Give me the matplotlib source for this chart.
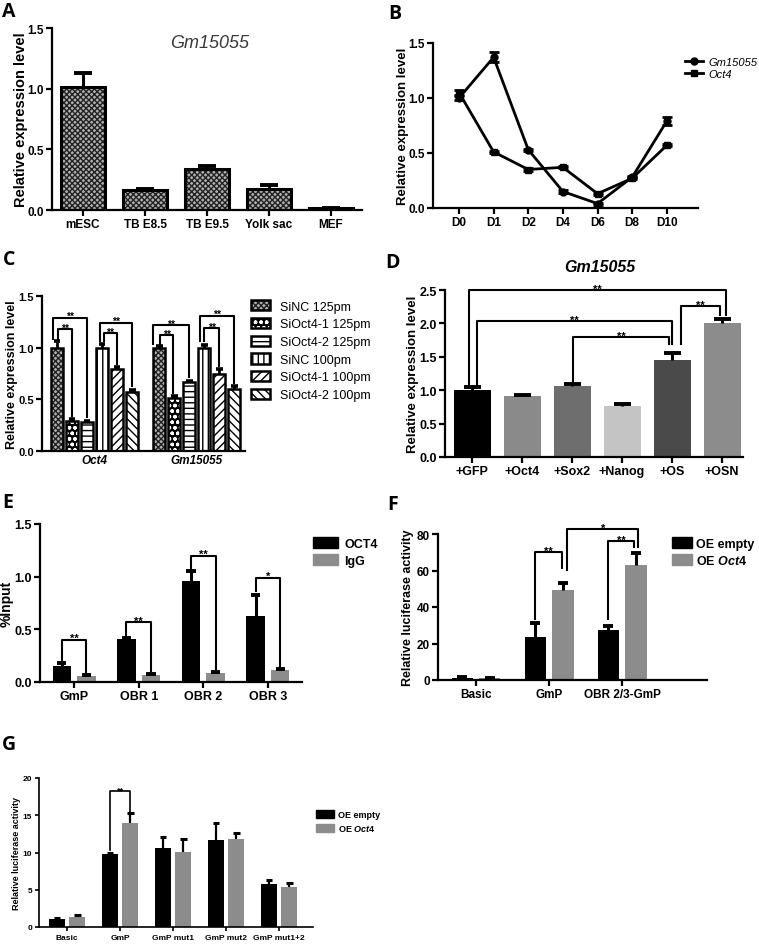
import numpy as np
import matplotlib
matplotlib.use('Agg')
import matplotlib.pyplot as plt
from matplotlib.patches import Patch
from matplotlib.lines import Line2D
from matplotlib.ticker import FormatStrFormatter

plt.rcParams['font.family'] = ['Liberation Sans', 'DejaVu Sans']
plt.rcParams['mathtext.fontset'] = 'custom'
plt.rcParams['mathtext.it'] = 'Liberation Sans:italic:bold'
plt.rcParams['mathtext.rm'] = 'Liberation Sans:bold'
plt.rcParams['hatch.linewidth'] = 1.0

# ---- data ----
A_cats = ['mESC', 'TB E8.5', 'TB E9.5', 'Yolk sac', 'MEF']
A_vals = [1.01, 0.165, 0.34, 0.17, 0.015]
A_err = [0.12, 0.01, 0.02, 0.04, 0.003]

B_days = ['D0', 'D1', 'D2', 'D4', 'D6', 'D8', 'D10']
B_gm = [1.0, 1.37, 0.53, 0.15, 0.04, 0.28, 0.79]
B_gm_err = [0.02, 0.045, 0.01, 0.01, 0.01, 0.01, 0.035]
B_oct = [1.05, 0.51, 0.35, 0.37, 0.13, 0.27, 0.57]
B_oct_err = [0.02, 0.01, 0.01, 0.01, 0.01, 0.01, 0.01]

C_groups = ['Oct4', 'Gm15055']
C_series = ['SiNC 125pm', 'SiOct4-1 125pm', 'SiOct4-2 125pm',
            'SiNC 100pm', 'SiOct4-1 100pm', 'SiOct4-2 100pm']
C_oct4 = [1.0, 0.29, 0.28, 1.0, 0.79, 0.57]
C_oct4_err = [0.06, 0.015, 0.01, 0.04, 0.02, 0.02]
C_gm = [1.0, 0.51, 0.67, 1.0, 0.75, 0.60]
C_gm_err = [0.02, 0.02, 0.01, 0.03, 0.04, 0.03]

D_cats = ['+GFP', '+Oct4', '+Sox2', '+Nanog', '+OS', '+OSN']
D_vals = [1.01, 0.91, 1.06, 0.77, 1.45, 2.01]
D_err = [0.04, 0.02, 0.03, 0.03, 0.10, 0.05]
D_colors = ['#000000', '#8a8a8a', '#6e6e6e', '#c4c4c4', '#4a4a4a', '#8c8c8c']

E_cats = ['GmP', 'OBR 1', 'OBR 2', 'OBR 3']
E_oct4 = [0.15, 0.41, 0.96, 0.63]
E_oct4_err = [0.03, 0.01, 0.09, 0.20]
E_igg = [0.06, 0.065, 0.09, 0.115]
E_igg_err = [0.01, 0.01, 0.005, 0.01]

F_cats = ['Basic', 'GmP', 'OBR 2/3-GmP']
F_empty = [1.2, 23.8, 27.5]
F_empty_err = [0.2, 7.4, 2.3]
F_oct4 = [0.9, 49.3, 63.2]
F_oct4_err = [0.2, 3.6, 6.3]

G_cats = ['Basic', 'GmP', 'GmP mut1', 'GmP mut2', 'GmP mut1+2']
G_empty = [1.1, 9.8, 10.6, 11.7, 5.8]
G_empty_err = [0.05, 0.2, 1.45, 2.2, 0.45]
G_oct4 = [1.35, 14.0, 10.1, 11.8, 5.35]
G_oct4_err = [0.2, 1.25, 1.7, 0.85, 0.6]

GREY = '#8c8c8c'
W, H = 759, 945
fig = plt.figure(figsize=(W / 100, H / 100), dpi=100)


def px_axes(l, t, r, b):
    ax = fig.add_axes([l / W, 1 - b / H, (r - l) / W, (b - t) / H])
    ax.px = (l, r)
    return ax


def prism(ax, fs, lw=1.6):
    for s in ['top', 'right']:
        ax.spines[s].set_visible(False)
    for s in ['left', 'bottom']:
        ax.spines[s].set_linewidth(lw)
    ax.tick_params(direction='out', length=4, width=lw, labelsize=fs, pad=2)
    for lab in ax.get_xticklabels() + ax.get_yticklabels():
        lab.set_fontweight('bold')


def ylabel_at(ax, text, fs, x_right):
    # x_right: pixel where the rotated label's right edge sits
    ax.set_ylabel(text, fontsize=fs, fontweight='bold')
    l, r = ax.px
    ax.yaxis.set_label_coords((x_right - l) / (r - l), 0.5)


def up_err(ax, x, vals, errs, cw, lw=2.2):
    x = np.asarray(x, float)
    top = np.asarray(vals) + np.asarray(errs)
    ax.vlines(x, vals, top, color='k', lw=lw, zorder=3)
    ax.hlines(top, x - cw, x + cw, color='k', lw=lw + 0.6, zorder=3)


def bracket(ax, xl, xr, top, yl, yr, text, fs, lw=1.5):
    ax.plot([xl, xl, xr, xr], [yl, top, top, yr], color='k', lw=lw,
            clip_on=False, zorder=4)
    ax.annotate(text, ((xl + xr) / 2, top), xytext=(0, -2.5),
                textcoords='offset points', ha='center', va='bottom',
                fontsize=fs, fontweight='bold', annotation_clip=False)


def panel_label(x, y, s):
    fig.text(x / W, 1 - y / H, s, fontsize=14, fontweight='bold',
             family='Open Sans', va='top', ha='left')


# ---- A ----
ax = px_axes(52, 29, 362, 211)
xa = np.arange(len(A_cats))
ax.bar(xa, A_vals, width=0.7, color='#b0b0b0', edgecolor='#222222',
       hatch='xxxxxx', linewidth=0)
ax.bar(xa, A_vals, width=0.7, fill=False, edgecolor='k', linewidth=2.2)
up_err(ax, xa, A_vals, A_err, 0.15)
ax.set_xlim(-0.5, 4.5)
ax.set_ylim(0, 1.5)
ax.set_yticks([0, 0.5, 1.0, 1.5])
ax.yaxis.set_major_formatter(FormatStrFormatter('%.1f'))
ax.set_xticks(xa, A_cats)
ylabel_at(ax, 'Relative expression level', 10.5, 28)
ax.text(0.51, 0.92, 'Gm15055', transform=ax.transAxes, style='italic',
        fontsize=13, color='#3a3a3a', ha='center', va='center')
prism(ax, 8.5)

# ---- B ----
ax = px_axes(433, 44, 698, 209)
xb = np.arange(len(B_days))
ax.errorbar(xb, B_gm, yerr=B_gm_err, color='k', lw=2, marker='o', ms=5,
            capsize=3.5, capthick=2, elinewidth=2)
ax.errorbar(xb, B_oct, yerr=B_oct_err, color='k', lw=2, marker='s', ms=5,
            capsize=3.5, capthick=2, elinewidth=2)
ax.set_xlim(-0.75, 6.9)
ax.set_ylim(0, 1.5)
ax.set_yticks([0, 0.5, 1.0, 1.5])
ax.yaxis.set_major_formatter(FormatStrFormatter('%.1f'))
ax.set_xticks(xb, B_days)
ylabel_at(ax, 'Relative expression level', 9.5, 409)
prism(ax, 8.5)
hB = [Line2D([], [], color='k', lw=2, marker='o', ms=5),
      Line2D([], [], color='k', lw=2, marker='s', ms=5)]
ax.legend(hB, ['Gm15055', 'Oct4'], loc='upper left',
          bbox_to_anchor=(685 / W, 1 - 58 / H), bbox_transform=fig.transFigure,
          frameon=False, handlelength=1.6, handletextpad=0.5, labelspacing=0.15,
          prop={'style': 'italic', 'size': 8}, borderaxespad=0, borderpad=0)

# ---- C ----
ax = px_axes(42, 297, 245, 452)
c_face = ['#b0b0b0', '#000000', 'white', 'white', 'white', 'white']
c_hcol = ['#222222', 'white', 'k', 'k', 'k', 'k']
c_hatch = ['xxxxxx', 'ooo', '---', '|||', '////', '\\\\\\\\']
c_groupx = [0.0, 6.8]
handles = []
for i in range(len(C_series)):
    xs = np.array(c_groupx) + i
    vals = [C_oct4[i], C_gm[i]]
    errs = [C_oct4_err[i], C_gm_err[i]]
    ax.bar(xs, vals, width=0.8, color=c_face[i], edgecolor=c_hcol[i],
           hatch=c_hatch[i], linewidth=0)
    ax.bar(xs, vals, width=0.8, fill=False, edgecolor='k', linewidth=1.8)
    up_err(ax, xs, vals, errs, 0.22, lw=2)
    handles.append((Patch(facecolor=c_face[i], edgecolor=c_hcol[i],
                          hatch=c_hatch[i], linewidth=0),
                    Patch(fill=False, edgecolor='k', linewidth=1.8)))
ax.set_xlim(-1.0, 12.5)
ax.set_ylim(0, 1.5)
ax.set_yticks([0, 0.5, 1.0, 1.5])
ax.yaxis.set_major_formatter(FormatStrFormatter('%.1f'))
ax.set_xticks([2.5, 9.3], C_groups)
ylabel_at(ax, 'Relative expression level', 9, 18)
prism(ax, 8)
ax.tick_params(axis='x', length=0, labelsize=8.5)
for lab in ax.get_xticklabels():
    lab.set_style('italic')
bracket(ax, 0.05, 1.0, 1.18, 1.08, 0.34, '**', 7.5)
bracket(ax, -0.25, 2.0, 1.29, 1.08, 0.33, '**', 7.5)
bracket(ax, 3.1, 3.98, 1.14, 1.06, 0.84, '**', 7.5)
bracket(ax, 2.83, 4.98, 1.24, 1.06, 0.63, '**', 7.5)
bracket(ax, 6.85, 7.73, 1.12, 1.04, 0.56, '**', 7.5)
bracket(ax, 6.4, 8.8, 1.22, 1.04, 0.72, '**', 7.5)
bracket(ax, 9.8, 10.75, 1.19, 1.06, 0.82, '**', 7.5)
bracket(ax, 9.5, 11.8, 1.31, 1.06, 0.66, '**', 7.5)
ax.legend(handles, C_series, loc='upper left',
          bbox_to_anchor=(251 / W, 1 - 301 / H), bbox_transform=fig.transFigure,
          frameon=False, handlelength=1.5, handleheight=0.9, handletextpad=0.8,
          labelspacing=0.42, fontsize=9, borderaxespad=0, borderpad=0)

# ---- D ----
ax = px_axes(445, 291, 743, 458)
xd = np.arange(len(D_cats))
ax.bar(xd, D_vals, width=0.74, color=D_colors, linewidth=0)
up_err(ax, xd, D_vals, D_err, 0.17)
ax.set_xlim(-0.54, 5.42)
ax.set_ylim(0, 2.5)
ax.set_yticks([0, 0.5, 1.0, 1.5, 2.0, 2.5])
ax.yaxis.set_major_formatter(FormatStrFormatter('%.1f'))
ax.set_xticks(xd, D_cats)
ylabel_at(ax, 'Relative expression level', 9.5, 419)
prism(ax, 9)
bracket(ax, -0.06, 5.08, 2.5, 1.07, 2.13, '**', 8)
bracket(ax, 0.10, 4.0, 2.03, 1.07, 1.69, '**', 8)
bracket(ax, 2.02, 3.94, 1.79, 1.13, 1.69, '**', 8)
bracket(ax, 4.18, 4.96, 2.26, 1.69, 2.13, '**', 8)
fig.text(600 / W, 1 - 267 / H, 'Gm15055', fontsize=11.5, fontweight='bold',
         style='italic', ha='center', va='center')

# ---- E ----
ax = px_axes(40, 525, 302, 683)
xe = np.arange(len(E_cats))
ax.bar(xe - 0.19, E_oct4, width=0.29, color='k', linewidth=0)
ax.bar(xe + 0.19, E_igg, width=0.29, color=GREY, linewidth=0)
up_err(ax, xe - 0.19, E_oct4, E_oct4_err, 0.07)
up_err(ax, xe + 0.19, E_igg, E_igg_err, 0.07)
ax.set_xlim(-0.53, 3.53)
ax.set_ylim(0, 1.5)
ax.set_yticks([0, 0.5, 1.0, 1.5])
ax.yaxis.set_major_formatter(FormatStrFormatter('%.1f'))
ax.set_xticks(xe, E_cats)
ylabel_at(ax, '%Input', 10, 14)
prism(ax, 9)
bracket(ax, -0.19, 0.19, 0.40, 0.20, 0.09, '**', 8)
bracket(ax, 0.81, 1.19, 0.565, 0.44, 0.10, '**', 8)
bracket(ax, 1.81, 2.19, 1.20, 1.08, 0.12, '**', 8)
bracket(ax, 2.81, 3.19, 0.99, 0.86, 0.15, '*', 8)
hE = [Patch(color='k'), Patch(color=GREY)]
ax.legend(hE, ['OCT4', 'IgG'], loc='upper left',
          bbox_to_anchor=(313 / W, 1 - 538 / H), bbox_transform=fig.transFigure,
          frameon=False, handlelength=2.0, handleheight=1.0, handletextpad=0.5,
          labelspacing=0.3, prop={'weight': 'bold', 'size': 9},
          borderaxespad=0, borderpad=0)

# ---- F ----
ax = px_axes(438, 535, 707, 681)
xf = np.arange(len(F_cats))
ax.bar(xf - 0.19, F_empty, width=0.29, color='k', linewidth=0)
ax.bar(xf + 0.19, F_oct4, width=0.29, color=GREY, linewidth=0)
up_err(ax, xf - 0.19, F_empty, F_empty_err, 0.07)
up_err(ax, xf + 0.19, F_oct4, F_oct4_err, 0.07)
ax.set_xlim(-0.52, 3.16)
ax.set_ylim(0, 80)
ax.set_yticks([0, 20, 40, 60, 80])
ax.set_xticks(xf, F_cats)
ylabel_at(ax, 'Relative luciferase activity', 9, 414)
prism(ax, 8.5)
bracket(ax, 0.81, 1.17, 69.9, 33.4, 61.5, '**', 8)
bracket(ax, 1.81, 2.16, 75.9, 33.4, 73.0, '**', 8)
bracket(ax, 1.25, 2.22, 82.5, 60.5, 73.0, '*', 8)
hF = [Patch(color='k'), Patch(color=GREY)]
ax.legend(hF, ['OE empty', r'OE $\mathit{Oct4}$'], loc='upper left',
          bbox_to_anchor=(672 / W, 1 - 538 / H), bbox_transform=fig.transFigure,
          frameon=False, handlelength=1.6, handleheight=1.0, handletextpad=0.3,
          labelspacing=0.3, prop={'weight': 'bold', 'size': 9},
          borderaxespad=0, borderpad=0)

# ---- G ----
ax = px_axes(39, 779, 313, 928)
xg = np.arange(len(G_cats))
ax.bar(xg - 0.195, G_empty, width=0.3, color='k', linewidth=0)
ax.bar(xg + 0.195, G_oct4, width=0.3, color=GREY, linewidth=0)
up_err(ax, xg - 0.195, G_empty, G_empty_err, 0.06, lw=1.6)
up_err(ax, xg + 0.195, G_oct4, G_oct4_err, 0.06, lw=1.6)
ax.set_xlim(-0.53, 4.64)
ax.set_ylim(0, 20)
ax.set_yticks([0, 5, 10, 15, 20])
ax.set_xticks(xg, G_cats)
ylabel_at(ax, 'Relative luciferase activity', 6.5, 21)
prism(ax, 6, lw=1.2)
ax.tick_params(length=3)
bracket(ax, 0.805, 1.195, 18.2, 10.4, 15.5, '**', 6.5, lw=1.2)
hG = [Patch(color='k'), Patch(color=GREY)]
ax.legend(hG, ['OE empty', r'OE $\mathit{Oct4}$'], loc='upper left',
          bbox_to_anchor=(316 / W, 1 - 811 / H), bbox_transform=fig.transFigure,
          frameon=False, handlelength=2.0, handleheight=1.0, handletextpad=0.4,
          labelspacing=0.3, prop={'weight': 'bold', 'size': 6.5},
          borderaxespad=0, borderpad=0)

panel_label(2, 2, 'A')
panel_label(388, 4, 'B')
panel_label(3, 250, 'C')
panel_label(385, 253, 'D')
panel_label(2, 493, 'E')
panel_label(387, 495, 'F')
panel_label(2, 735, 'G')

fig.savefig('out.png', dpi=100)
